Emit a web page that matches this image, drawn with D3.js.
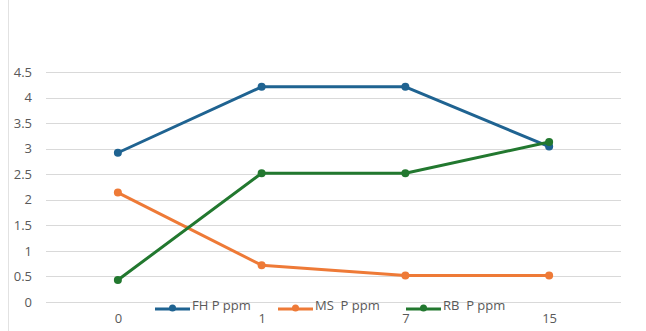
<!DOCTYPE html>
<html>
<head>
<meta charset="utf-8">
<script src="https://cdn.jsdelivr.net/npm/d3@7"></script>
<style>
  html, body { margin: 0; padding: 0; background: #fff; }
  svg { display: block; font-family: "Open Sans", "Liberation Sans", sans-serif; }
</style>
</head>
<body>
<svg id="chart" width="646" height="331"></svg>
<script>
// Phosphorus readings per sampling day
const days = ["0", "1", "7", "15"];
const fhValues = [2.92, 4.21, 4.21, 3.04];
const msValues = [2.14, 0.72, 0.52, 0.52];
const rbValues = [0.43, 2.52, 2.52, 3.13];
const yTicks = [0, 0.5, 1, 1.5, 2, 2.5, 3, 3.5, 4, 4.5];
const seriesNames = ["FH P ppm", "MS  P ppm", "RB  P ppm"];

const series = [
  { name: seriesNames[0], values: fhValues, color: "#1f6391" },
  { name: seriesNames[1], values: msValues, color: "#ee7a37" },
  { name: seriesNames[2], values: rbValues, color: "#22782f" }
];

const svg = d3.select("#chart");
const plot = { left: 46, right: 621, top: 72, bottom: 302 };
const labelFont = "'Open Sans', 'Liberation Sans', sans-serif";

// chart area frame edge
svg.append("line")
  .attr("x1", 8.5).attr("x2", 8.5).attr("y1", 0).attr("y2", 331)
  .attr("stroke", "#e2e2e2").attr("stroke-width", 1);

const x = d3.scalePoint().domain(days).range([plot.left, plot.right]).padding(0.5);
const y = d3.scaleLinear().domain([0, 4.5]).range([plot.bottom, plot.top]);

// horizontal gridlines
svg.append("g")
  .selectAll("line")
  .data(yTicks)
  .join("line")
  .attr("x1", plot.left).attr("x2", plot.right)
  .attr("y1", d => Math.round(y(d)) + 0.5).attr("y2", d => Math.round(y(d)) + 0.5)
  .attr("stroke", "#d9d9d9").attr("stroke-width", 1);

// y axis labels
const yAxis = d3.axisLeft(y).tickValues(yTicks).tickSize(0).tickPadding(0).tickFormat(d3.format("~g"));
svg.append("g")
  .attr("transform", "translate(32,0)")
  .call(yAxis)
  .call(g => g.select(".domain").remove())
  .call(g => g.selectAll("text").attr("fill", "#595959").style("font-size", "13px")
    .style("font-family", labelFont));

// x axis labels
const xAxis = d3.axisBottom(x).tickSize(0).tickPadding(0);
svg.append("g")
  .attr("transform", "translate(0,314)")
  .call(xAxis)
  .call(g => g.select(".domain").remove())
  .call(g => g.selectAll("text").attr("fill", "#595959").style("font-size", "13px")
    .style("font-family", labelFont));

// series lines and markers
const line = d3.line().x((d, i) => x(days[i])).y(d => y(d));
series.forEach(s => {
  const g = svg.append("g");
  g.append("path")
    .datum(s.values)
    .attr("d", line)
    .attr("fill", "none")
    .attr("stroke", s.color)
    .attr("stroke-width", 3)
    .attr("stroke-linejoin", "round")
    .attr("stroke-linecap", "round");
  g.selectAll("circle")
    .data(s.values)
    .join("circle")
    .attr("cx", (d, i) => x(days[i]))
    .attr("cy", d => y(d))
    .attr("r", 4)
    .attr("fill", s.color);
});

// legend
const legendX = [155, 278, 406];
const legend = svg.append("g").attr("transform", "translate(0,309)");
series.forEach((s, i) => {
  const lg = legend.append("g").attr("transform", `translate(${legendX[i]},0)`);
  lg.append("line")
    .attr("x1", 0).attr("x2", 35).attr("y1", 0).attr("y2", 0)
    .attr("stroke", s.color).attr("stroke-width", 3);
  lg.append("circle").attr("cx", 17.5).attr("cy", -1).attr("r", 3.5).attr("fill", s.color);
  lg.append("text")
    .attr("x", 37).attr("y", 0).attr("dy", "0.1em")
    .attr("fill", "#595959")
    .style("font-size", "13px")
    .style("white-space", "pre")
    .text(s.name);
});
</script>
</body>
</html>
